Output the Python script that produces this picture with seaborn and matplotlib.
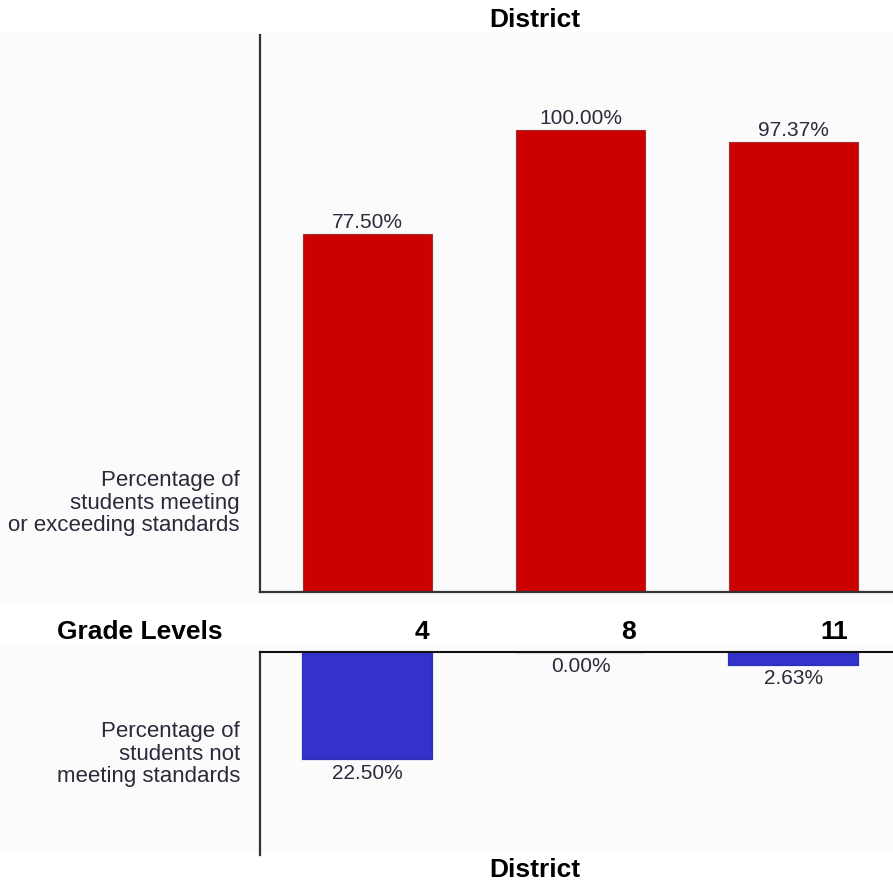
import matplotlib
matplotlib.use("Agg")
import matplotlib.pyplot as plt
import matplotlib.patches as mpatches
import seaborn as sns
import pandas as pd

# Grade-level results for the district
grades = ["4", "8", "11"]
meeting = [77.50, 100.00, 97.37]
not_meeting = [22.50, 0.00, 2.63]

title = "District"
axis_caption = "Grade Levels"
meeting_caption = "Percentage of\nstudents meeting\nor exceeding standards"
not_meeting_caption = "Percentage of\nstudents not\nmeeting standards"

sns.set_theme(style="white")
plt.rcParams["font.family"] = ["Liberation Sans", "DejaVu Sans"]

W, H = 893, 884
fig = plt.figure(figsize=(W / 100, H / 100), dpi=100)
fig.patch.set_facecolor("white")

# faint panel backgrounds, kept behind the axes
for y0, y1 in [(33, 604), (645, 853)]:
    fig.patches.append(mpatches.Rectangle((0, 1 - y1 / H), 1, (y1 - y0) / H,
                                          transform=fig.transFigure,
                                          facecolor="#FBFBFB", edgecolor="none", zorder=-5))

left, right = 260, 893
ax_top = fig.add_axes([left / W, 1 - 592 / H, (right - left) / W, (592 - 35) / H])
ax_bot = fig.add_axes([left / W, 1 - 855 / H, (right - left) / W, (855 - 652) / H])

df = pd.DataFrame({"grade": grades, "meeting": meeting, "not_meeting": not_meeting})

bar_w = 0.606
sns.barplot(data=df, x="grade", y="meeting", color="#CC0000", saturation=1,
            width=bar_w, edgecolor="#A03030", linewidth=0.8, ax=ax_top)
sns.barplot(data=df, x="grade", y="not_meeting", color="#3333CC", saturation=1,
            width=bar_w, edgecolor="#3030C0", linewidth=1.6, ax=ax_bot)

xlim = (-0.505, 2.467)
text_col = "#2A2A3A"
for ax in (ax_top, ax_bot):
    ax.set_facecolor("none")
    ax.set_xlim(*xlim)
    ax.set_xticks([])
    ax.set_yticks([])
    ax.set_xlabel("")
    ax.set_ylabel("")
    for s in ax.spines.values():
        s.set_visible(False)
    ax.spines["left"].set_visible(True)
    ax.spines["left"].set_color("#333333")
    ax.spines["left"].set_linewidth(1.6)

ax_top.set_ylim(0, 120.56)
ax_top.spines["bottom"].set_visible(True)
ax_top.spines["bottom"].set_color("#333333")
ax_top.spines["bottom"].set_linewidth(1.6)

ax_bot.set_ylim(42.7, 0)
ax_bot.spines["top"].set_visible(True)
ax_bot.spines["top"].set_color("#111111")
ax_bot.spines["top"].set_linewidth(1.5)

for i, v in enumerate(meeting):
    ax_top.annotate(f"{v:.2f}%", (i, v), xytext=(0, 1.5), textcoords="offset points",
                    ha="center", va="bottom", fontsize=15, color=text_col)
for i, v in enumerate(not_meeting):
    ax_bot.annotate(f"{v:.2f}%", (i, v), xytext=(0, -3.5), textcoords="offset points",
                    ha="center", va="top", fontsize=15, color=text_col)

# headings and captions
head = dict(ha="center", va="center", fontsize=19, fontweight="bold", color="black")
fig.text(535 / W, 1 - 20 / H, title, **head)
fig.text(535 / W, 1 - 870 / H, title, **head)
fig.text(140 / W, 1 - 632 / H, axis_caption, **head)
for i, g in enumerate(grades):
    fig.text((422 + 206 * i) / W, 1 - 632 / H, g, **head)

cap = dict(ha="right", va="center", fontsize=16, color=text_col, linespacing=1.12)
fig.text(240 / W, 1 - 503 / H, meeting_caption, **cap)
fig.text(240 / W, 1 - 754 / H, not_meeting_caption, **cap)

fig.savefig("out.png", dpi=100, facecolor="white")
